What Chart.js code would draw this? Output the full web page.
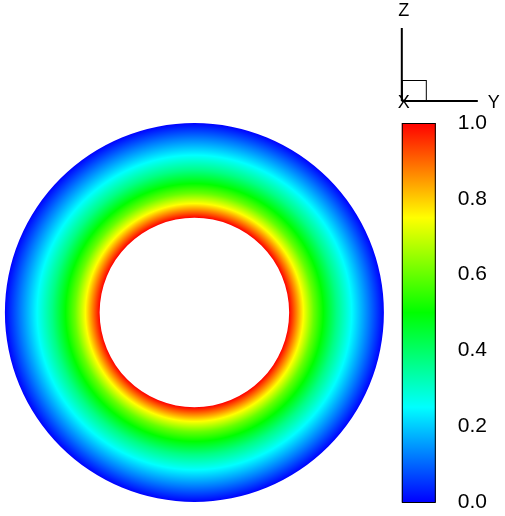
<!DOCTYPE html>
<html>
<head>
<meta charset="utf-8">
<script src="https://cdn.jsdelivr.net/npm/chart.js@4.4.1/dist/chart.umd.min.js"></script>
<style>
  html, body { margin: 0; padding: 0; background: #fff; }
  #wrap { width: 505px; height: 516px; }
</style>
</head>
<body>
<div id="wrap"><canvas id="ringChart" width="505" height="516"></canvas></div>
<script>
// colour map (Tecplot style small rainbow)
const mapStops = [0.0, 0.25, 0.5, 0.75, 1.0];
const mapColors = ['#0000ff', '#00ffff', '#00ff00', '#ffff00', '#ff0000'];

// radial profile: radius (outer radius = 1) and contour value
const ringRadius = [0.50, 0.53, 0.575, 0.63, 0.68, 0.75, 0.83, 0.92, 1.00];
const ringValue  = [1.00, 0.90, 0.75, 0.60, 0.50, 0.37, 0.25, 0.12, 0.00];

// colour bar tick labels
const barTicks = [0.0, 0.2, 0.4, 0.6, 0.8, 1.0];

function hexToRgb(h) {
    return [parseInt(h.slice(1, 3), 16), parseInt(h.slice(3, 5), 16), parseInt(h.slice(5, 7), 16)];
}

function colorFor(v) {
    for (let i = 0; i < mapStops.length - 1; i++) {
        if (v <= mapStops[i + 1]) {
            const t = (v - mapStops[i]) / (mapStops[i + 1] - mapStops[i]);
            const a = hexToRgb(mapColors[i]), b = hexToRgb(mapColors[i + 1]);
            const c = a.map((x, k) => Math.round(x + (b[k] - x) * t));
            return `rgb(${c[0]},${c[1]},${c[2]})`;
        }
    }
    return mapColors[mapColors.length - 1];
}

const contourPlugin = {
    id: 'contour',
    afterDraw(chart) {
        const ctx = chart.ctx;
        const xs = chart.scales.x, ys = chart.scales.y, cb = chart.scales.cb;
        const cx = xs.getPixelForValue(0);
        const cy = ys.getPixelForValue(0);
        const R = ys.getPixelForValue(0) - ys.getPixelForValue(1);

        // annulus
        ctx.save();
        const g = ctx.createRadialGradient(cx, cy, 0, cx, cy, R);
        ringRadius.forEach((r, i) => g.addColorStop(r, colorFor(ringValue[i])));
        g.addColorStop(0, colorFor(ringValue[0]));
        ctx.fillStyle = g;
        ctx.beginPath();
        ctx.arc(cx, cy, R, 0, Math.PI * 2);
        ctx.arc(cx, cy, R * ringRadius[0], 0, Math.PI * 2, true);
        ctx.fill('evenodd');
        ctx.restore();

        // colour bar
        const area = chart.chartArea;
        const barL = area.right - 46, barR = area.right - 12;
        const top = cb.getPixelForValue(1), bottom = cb.getPixelForValue(0);
        ctx.save();
        const lg = ctx.createLinearGradient(0, bottom, 0, top);
        mapStops.forEach((s, i) => lg.addColorStop(s, mapColors[i]));
        ctx.fillStyle = lg;
        ctx.fillRect(barL, top, barR - barL, bottom - top);
        ctx.strokeStyle = '#000';
        ctx.lineWidth = 1;
        ctx.strokeRect(barL + 0.5, top + 0.5, barR - barL - 1, bottom - top);
        ctx.restore();

        // axis triad
        const ox = barL, oy = 101;
        ctx.save();
        ctx.strokeStyle = '#000';
        ctx.lineWidth = 2;
        ctx.beginPath();
        ctx.moveTo(ox, oy);
        ctx.lineTo(ox, oy - 73);
        ctx.moveTo(ox, oy);
        ctx.lineTo(ox + 76, oy);
        ctx.stroke();
        ctx.lineWidth = 1;
        ctx.strokeRect(ox + 0.5, oy - 21 + 0.5, 24, 21);
        ctx.fillStyle = '#000';
        ctx.font = '18px "Liberation Sans", Arial, sans-serif';
        ctx.textAlign = 'center';
        ctx.textBaseline = 'middle';
        ctx.fillText('Z', ox + 2, 11);
        ctx.fillText('X', ox + 2, oy + 2);
        ctx.fillText('Y', ox + 92, oy + 2);
        ctx.restore();
    }
};

new Chart(document.getElementById('ringChart'), {
    type: 'scatter',
    data: { datasets: [{ data: [] }] },
    options: {
        responsive: false,
        animation: false,
        events: [],
        layout: { padding: { left: 5, top: 123, bottom: 14, right: 8 } },
        plugins: { legend: { display: false }, tooltip: { enabled: false } },
        scales: {
            x: { type: 'linear', min: -1, max: 1.338, display: false },
            y: { type: 'linear', min: -1, max: 1, display: false },
            cb: {
                type: 'linear',
                position: 'right',
                min: 0,
                max: 1,
                afterBuildTicks: axis => { axis.ticks = barTicks.map(v => ({ value: v })); },
                afterFit: axis => { axis.paddingTop = 0; axis.paddingBottom = 0; },
                grid: { display: false, drawTicks: false },
                border: { display: false },
                ticks: {
                    padding: 10,
                    color: '#000',
                    font: { family: '"Liberation Sans", Arial, sans-serif', size: 21 },
                    callback: v => Number(v).toFixed(1)
                }
            }
        }
    },
    plugins: [contourPlugin]
});
</script>
</body>
</html>
